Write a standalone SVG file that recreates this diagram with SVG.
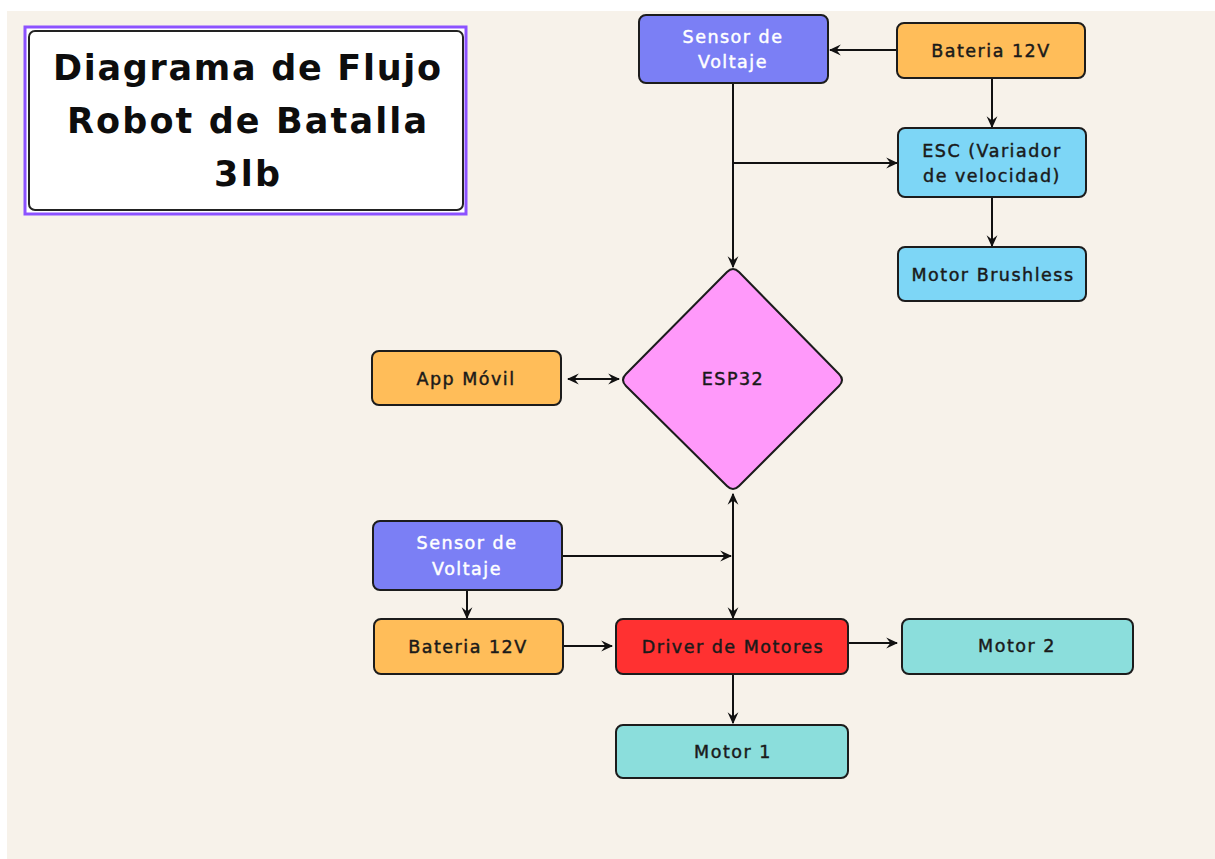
<svg xmlns="http://www.w3.org/2000/svg" width="1215" height="859" viewBox="0 0 1215 859">
<style>
.box{stroke:#1c1c1c;stroke-width:2}
.lbl{font-family:"DejaVu Sans","Open Sans",sans-serif;font-size:17.5px;font-weight:normal;fill:#1a1a1a;stroke:#1a1a1a;stroke-width:0.45;text-anchor:middle;letter-spacing:1.5px}
.wl{fill:#ffffff;stroke:#ffffff}
.ttl{font-family:"DejaVu Sans","Liberation Sans",sans-serif;font-size:35px;font-weight:bold;fill:#0d0d0d;text-anchor:middle}
.conn{stroke:#111;stroke-width:2;fill:none}
</style>
<defs>
<marker id="ah" viewBox="0 0 10 10" refX="9" refY="5" markerWidth="12" markerHeight="12" orient="auto-start-reverse" markerUnits="userSpaceOnUse">
<path d="M0,0.5 L10,5 L0,9.5 L3.5,5 Z" fill="#111"/>
</marker>
</defs>
<rect x="0" y="0" width="1215" height="859" fill="#ffffff"/>
<rect x="7" y="11" width="1208" height="848" fill="#F7F2EA"/>

<g id="title">
<rect x="25" y="27" width="441" height="187" fill="#ffffff" stroke="#8C52FF" stroke-width="3"/>
<rect x="29" y="31" width="434" height="179" rx="6" fill="#ffffff" stroke="#222" stroke-width="2"/>
<text class="ttl" x="247" y="80" textLength="388" lengthAdjust="spacing">Diagrama de Flujo</text>
<text class="ttl" x="247" y="133" textLength="360" lengthAdjust="spacing">Robot de Batalla</text>
<text class="ttl" x="247" y="186" textLength="66" lengthAdjust="spacing">3lb</text>
</g>

<g id="connectors">
<line class="conn" x1="897" y1="50" x2="830" y2="50" marker-end="url(#ah)"/>
<line class="conn" x1="992" y1="78" x2="992" y2="127" marker-end="url(#ah)"/>
<line class="conn" x1="992" y1="197" x2="992" y2="246" marker-end="url(#ah)"/>
<line class="conn" x1="733" y1="83" x2="733" y2="267" marker-end="url(#ah)"/>
<line class="conn" x1="733" y1="163" x2="897" y2="163" marker-end="url(#ah)"/>
<line class="conn" x1="568" y1="379" x2="619" y2="379" marker-start="url(#ah)" marker-end="url(#ah)"/>
<line class="conn" x1="733" y1="494" x2="733" y2="618" marker-start="url(#ah)" marker-end="url(#ah)"/>
<line class="conn" x1="562" y1="556" x2="731" y2="556" marker-end="url(#ah)"/>
<line class="conn" x1="467" y1="590" x2="467" y2="618" marker-end="url(#ah)"/>
<line class="conn" x1="563" y1="646" x2="612" y2="646" marker-end="url(#ah)"/>
<line class="conn" x1="848" y1="643" x2="897" y2="643" marker-end="url(#ah)"/>
<line class="conn" x1="733" y1="674" x2="733" y2="723" marker-end="url(#ah)"/>
</g>

<g id="sensor-top">
<rect class="box" x="639" y="15" width="189" height="68" rx="7" fill="#7B7FF5"/>
<text class="lbl wl" x="733" y="43">Sensor de</text>
<text class="lbl wl" x="733" y="68">Voltaje</text>
</g>

<g id="bateria-top">
<rect class="box" x="897" y="23" width="188" height="55" rx="7" fill="#FFBD59"/>
<text class="lbl" x="991" y="57">Bateria 12V</text>
</g>

<g id="esc">
<rect class="box" x="898" y="128" width="188" height="69" rx="7" fill="#7DD6F6"/>
<text class="lbl" x="992" y="157">ESC (Variador</text>
<text class="lbl" x="992" y="182">de velocidad)</text>
</g>

<g id="motor-brushless">
<rect class="box" x="898" y="247" width="188" height="54" rx="7" fill="#7DD6F6"/>
<text class="lbl" x="993" y="281">Motor Brushless</text>
</g>

<g id="esp32">
<path class="box" d="M727,272 Q733,266 739,272 L839,374 Q845,380 839,386 L739,486 Q733,492 727,486 L626,386 Q620,380 626,374 Z" fill="#FF99FA"/>
<text class="lbl" x="733" y="385">ESP32</text>
</g>

<g id="app-movil">
<rect class="box" x="372" y="351" width="189" height="54" rx="7" fill="#FFBD59"/>
<text class="lbl" x="466" y="385">App Móvil</text>
</g>

<g id="sensor-bottom">
<rect class="box" x="373" y="521" width="189" height="69" rx="7" fill="#7B7FF5"/>
<text class="lbl wl" x="467" y="549">Sensor de</text>
<text class="lbl wl" x="467" y="575">Voltaje</text>
</g>

<g id="bateria-bottom">
<rect class="box" x="374" y="619" width="189" height="55" rx="7" fill="#FFBD59"/>
<text class="lbl" x="468" y="653">Bateria 12V</text>
</g>

<g id="driver">
<rect class="box" x="616" y="619" width="232" height="55" rx="7" fill="#FF3131"/>
<text class="lbl" x="733" y="653">Driver de Motores</text>
</g>

<g id="motor2">
<rect class="box" x="902" y="619" width="231" height="55" rx="7" fill="#8BDEDC"/>
<text class="lbl" x="1017" y="652">Motor 2</text>
</g>

<g id="motor1">
<rect class="box" x="616" y="725" width="232" height="53" rx="7" fill="#8BDEDC"/>
<text class="lbl" x="733" y="758">Motor 1</text>
</g>
</svg>
